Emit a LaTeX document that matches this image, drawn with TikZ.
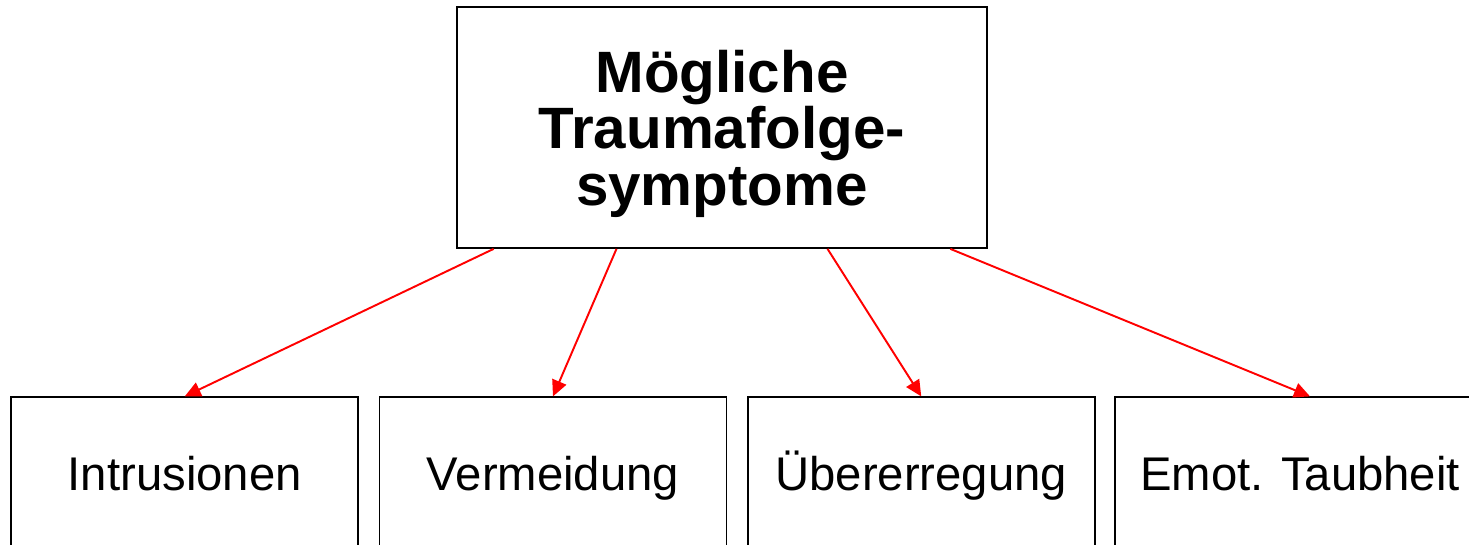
\documentclass[tikz,border=0pt]{standalone}
\usepackage{fontspec}
\setmainfont{Liberation Sans}
\usetikzlibrary{positioning,arrows.meta}
\tikzstyle{TitelBox}=[rectangle, draw=black, line width=1pt, minimum width=10.6cm, minimum height=4.82cm, align=center, text depth=0cm, font=\fontsize{33.2}{32.2}\selectfont\bfseries]
\tikzstyle{SymptomBox}=[rectangle, draw=black, line width=1pt, minimum width=6.94cm, minimum height=3.08cm, text height=0.86cm, text depth=0.2cm, font=\fontsize{26.9}{32}\selectfont]
\tikzstyle{Pfeil}=[-{Triangle[length=0.32cm, width=0.3cm]}, draw=red, fill=red, line width=1.1pt]

\begin{document}
\begin{tikzpicture}
			\useasboundingbox (0,0) rectangle (29.38,-10.88);

			%Knoten
			\node[TitelBox]		(titel)		at (14.44,-2.55)		{Mögliche\\Traumafolge-\\symptome};

			\node[SymptomBox]	(intrusion)	[below left=2.95cm and 1.94cm of titel.south west]	{Intrusionen};
			\node[SymptomBox]	(vermeidung)	[right=0.39cm of intrusion]		{Vermeidung};
			\node[SymptomBox]	(erregung)		[right=0.39cm of vermeidung]	{Übererregung};
			\node[SymptomBox, minimum width=7.4cm]	(taubheit)	[right=0.37cm of erregung]	{Emot. Taubheit};

			%Pfeile
			\draw[Pfeil] (titel.208) -- (intrusion.north);
			\draw[Pfeil] (titel.229) -- (vermeidung.north);
			\draw[Pfeil] (titel.311) -- (erregung.north);
			\draw[Pfeil] (titel.332) -- ([xshift=0.2cm]taubheit.north);

		\end{tikzpicture}
\end{document}
